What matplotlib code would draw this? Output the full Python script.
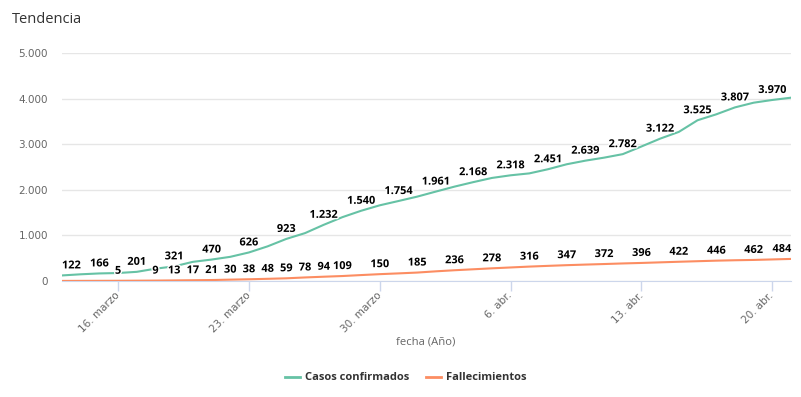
import matplotlib
matplotlib.use("Agg")
import matplotlib.pyplot as plt
import matplotlib.patheffects as pe
from matplotlib.lines import Line2D
from matplotlib.ticker import FuncFormatter
import numpy as np

# datos diarios, 13 marzo - 21 abril
fechas = np.arange("2020-03-13", "2020-04-22", dtype="datetime64[D]")
casos = [122, 147, 166, 175, 201, 270, 321, 420, 470, 530, 626, 760, 923, 1050,
         1232, 1400, 1540, 1660, 1754, 1850, 1961, 2070, 2168, 2260, 2318, 2360,
         2451, 2560, 2639, 2705, 2782, 2950, 3122, 3270, 3525, 3655, 3807, 3910,
         3970, 4020]
fallecidos = [2, 3, 4, 5, 7, 9, 13, 17, 21, 30, 38, 48, 59, 78, 94, 109, 130, 150,
              167, 185, 212, 236, 257, 278, 297, 316, 332, 347, 360, 372, 385, 396,
              409, 422, 434, 446, 455, 462, 473, 484]
series = ["Casos confirmados", "Fallecimientos"]
ticks_x = ["16. marzo", "23. marzo", "30. marzo", "6. abr.", "13. abr.", "20. abr."]

verde = "#66c2a5"
naranja = "#fc8d62"

plt.rcParams['font.family'] = ['Open Sans', 'DejaVu Sans']


def miles(v):
    return f"{int(v):,}".replace(",", ".")


fig = plt.figure(figsize=(8.01, 3.97), dpi=100)
ax = fig.add_axes([62/801, 1-281/397, (791-62)/801, (281-53)/397])

ax.plot(fechas, casos, color=verde, lw=1.5, solid_capstyle='round', zorder=3)
ax.plot(fechas, fallecidos, color=naranja, lw=1.5, solid_capstyle='round', zorder=3)

ax.set_xlim(fechas[0], fechas[-1])
ax.set_ylim(0, 5000)
ax.set_yticks(np.arange(0, 5001, 1000))
ax.yaxis.set_major_formatter(FuncFormatter(lambda v, p: miles(v)))
ax.grid(axis='y', color='#e6e6e6', lw=1)
ax.set_axisbelow(True)
for s in ['top', 'right', 'left']:
    ax.spines[s].set_visible(False)
ax.spines['bottom'].set_color('#ccd6eb')
ax.tick_params(axis='y', length=0, pad=10, labelsize=7.5, labelcolor='#666666')

ax.set_xticks(fechas[3::7])
ax.set_xticklabels(ticks_x)
ax.tick_params(axis='x', length=7.2, width=1, color='#ccd6eb', pad=2,
               labelsize=7.5, labelcolor='#666666')
plt.setp(ax.get_xticklabels(), rotation=45, ha='right', va='center',
         rotation_mode='anchor')
for lab in ax.get_xticklabels() + ax.get_yticklabels():
    lab.set_family('DejaVu Sans')

# etiquetas de datos
contorno = [pe.withStroke(linewidth=2, foreground='white')]
etiquetas = []
for vals in [casos, fallecidos]:
    for f, v in zip(fechas, vals):
        t = ax.annotate(miles(v), (f, v), xytext=(0, 7), textcoords='offset pixels',
                        ha='center', va='baseline', fontsize=7.9, fontweight='bold',
                        color='black', path_effects=contorno, annotation_clip=False,
                        zorder=5)
        etiquetas.append(t)

# ocultar etiquetas que se solapan (como highcharts)
fig.canvas.draw()
r = fig.canvas.get_renderer()
caja = ax.get_window_extent(r)
puestas = []
for t in etiquetas:
    bb = t.get_window_extent(r)
    dx = 0
    if bb.x0 < caja.x0:
        dx = caja.x0 - bb.x0
    elif bb.x1 > caja.x1:
        dx = caja.x1 - bb.x1
    if dx:
        t.xyann = (dx, 7)
        bb = t.get_window_extent(r)
    choca = False
    for o in puestas:
        if bb.x0 - 1 < o.x1 and bb.x1 + 1 > o.x0 and bb.y0 < o.y1 and bb.y1 > o.y0:
            choca = True
            break
    if choca:
        t.set_visible(False)
    else:
        puestas.append(bb)

fig.text(12/801, 1-23/397, "Tendencia", fontsize=10.5, color='#333333', va='baseline')
fig.text(426/801, 1-342/397, "fecha (Año)", fontsize=8.1, color='#666666',
         ha='center', va='center')

manejadores = [Line2D([], [], color=verde, lw=2), Line2D([], [], color=naranja, lw=2)]
fig.legend(manejadores, series, loc='center', bbox_to_anchor=(406/801, 1-378/397),
           ncol=2, frameon=False, prop={'weight': 'bold', 'size': 8.0},
           labelcolor='#333333', handlelength=1.3, handletextpad=0.5,
           columnspacing=1.5)

fig.savefig("out.png", dpi=100)
